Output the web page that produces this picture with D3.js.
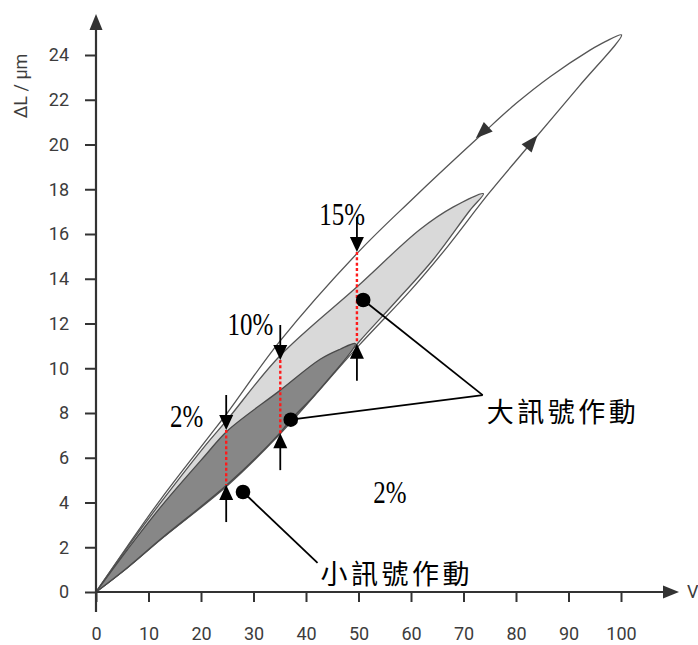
<!DOCTYPE html>
<html>
<head>
<meta charset="utf-8">
<script src="https://cdn.jsdelivr.net/npm/d3@7"></script>
<style>
  html, body { margin: 0; padding: 0; background: #fff; }
  svg { display: block; }
</style>
</head>
<body>
<svg id="chart" width="698" height="645"></svg>
<script>
// Hysteresis loops of a piezo stack: displacement ΔL (µm) vs. drive voltage V.
// Each loop = rising branch (origin -> tip) followed by falling branch (tip -> origin).

// Full-range loop (0-100 V)
const outerRise = [[0,0],[6,1.08],[12.5,2.38],[25,4.75],[35,7.05],[50,11.0],[60,13.5],[67,15.45],[74.7,17.78],[83,20.1],[92,22.6],[100.1,24.9]];
const outerFall = [[100.1,24.9],[97,24.6],[94.1,24.22],[86.5,23.03],[80.1,21.85],[73.7,20.5],[60,17.5],[50,15.2],[35,11.2],[25,8.0],[21.7,7.0],[12.5,4.2],[6,2.05],[0,0]];

// Mid-range loop (0-74 V)
const midRise = [[0,0],[6,1.1],[12.5,2.4],[25,4.8],[35,7.1],[42,8.9],[50,11.15],[57,12.95],[64.2,14.85],[71.2,17.05],[73.8,17.8]];
const midFall = [[73.8,17.8],[68,17.2],[61.7,16.2],[50,13.7],[35,10.55],[25,7.7],[21,6.6],[12.5,4.05],[6,2.0],[0,0]];

// Small-signal loop (0-50 V)
const innerRise = [[0,0],[6,1.1],[12.5,2.4],[25,4.8],[35,7.1],[37.1,7.7],[42,8.9],[49.4,11.1]];
const innerFall = [[49.4,11.1],[46.5,10.85],[42.7,10.4],[35,9.0],[25,7.2],[20.8,6.1],[12.5,3.85],[6,1.9],[0,0]];

// Direction markers on the full-range loop: [V, ΔL]
const fallMarker = [73.6, 20.55];
const riseMarker = [83.0, 20.1];

// Hysteresis width readings: voltage, upper ΔL, lower ΔL, label
const gapV     = [24.8, 35.1, 49.7];
const gapUpper = [7.24, 10.37, 15.2];
const gapLower = [4.78, 7.1, 11.1];
const gapLabel = ["2%", "10%", "15%"];

// Callout dots [V, ΔL]
const bigDots   = [[50.9, 13.05], [37.1, 7.7]];
const smallDots = [[28.0, 4.47]];
const bigLabel   = "大訊號作動";
const smallLabel = "小訊號作動";

// Axis ticks
const xTicks = d3.range(0, 101, 10);
const yTicks = d3.range(0, 25, 2);

const svg = d3.select("#chart");
const x = d3.scaleLinear().domain([0, 100]).range([96, 621]);
const y = d3.scaleLinear().domain([0, 24]).range([592, 55]);

const axisColor = "#333";
const tickFont = "Roboto, 'DejaVu Sans', sans-serif";

// ---- loops ----
const loopLine = d3.line()
  .x(d => x(d[0])).y(d => y(d[1]))
  .curve(d3.curveCatmullRom.alpha(0.5));

function loop(rise, fall, fill, stroke) {
  const pts = rise.concat(fall.slice(1));
  svg.append("path")
    .attr("d", loopLine(pts))
    .attr("fill", fill)
    .attr("stroke", stroke)
    .attr("stroke-width", 1.3)
    .attr("stroke-linejoin", "round");
}
loop(outerRise, outerFall, "#ffffff", "#555");
loop(midRise, midFall, "#d9d9d9", "#555");
loop(innerRise, innerFall, "#878787", "#4a4a4a");

// ---- direction arrowheads on the outer loop ----
function dirAt(branch, v) {
  for (let i = 0; i < branch.length - 1; i++) {
    const a = branch[i], b = branch[i + 1];
    if ((v - a[0]) * (v - b[0]) <= 0) {
      return Math.atan2(y(b[1]) - y(a[1]), x(b[0]) - x(a[0])) * 180 / Math.PI;
    }
  }
  return 0;
}
function flowHead(p, branch) {
  svg.append("path")
    .attr("d", "M9,0 L-8,-6.5 L-8,6.5 Z")
    .attr("fill", "#333")
    .attr("transform", `translate(${x(p[0])},${y(p[1])}) rotate(${dirAt(branch, p[0])})`);
}
flowHead(fallMarker, outerFall);
flowHead(riseMarker, outerRise);

// ---- axes ----
const xAxis = d3.axisBottom(x).tickValues(xTicks).tickSize(10).tickPadding(25);
const yAxis = d3.axisLeft(y).tickValues(yTicks).tickSize(11).tickPadding(16);

const gx = svg.append("g").attr("transform", `translate(0,${y(0)})`).call(xAxis);
const gy = svg.append("g").attr("transform", `translate(${x(0)},0)`).call(yAxis);
[gx, gy].forEach(g => {
  g.select(".domain").remove();
  g.selectAll(".tick line").attr("stroke", axisColor).attr("stroke-width", 2);
  g.selectAll(".tick text")
    .attr("fill", "#3c3c3c")
    .style("font-family", tickFont)
    .style("font-size", "18px");
});

// axis lines with arrowheads
svg.append("line").attr("x1", x(0)).attr("x2", 666).attr("y1", y(0)).attr("y2", y(0))
  .attr("stroke", axisColor).attr("stroke-width", 2.2);
svg.append("path").attr("d", `M679,${y(0)} L663,${y(0) - 6.5} L663,${y(0) + 6.5} Z`).attr("fill", axisColor);
svg.append("line").attr("x1", x(0)).attr("x2", x(0)).attr("y1", 612).attr("y2", 28)
  .attr("stroke", axisColor).attr("stroke-width", 2.2);
svg.append("path").attr("d", `M${x(0)},14 L${x(0) - 6.5},30 L${x(0) + 6.5},30 Z`).attr("fill", axisColor);

svg.append("text").attr("x", 687).attr("y", y(0)).attr("dy", "0.35em")
  .style("font-family", tickFont).style("font-size", "18px").attr("fill", "#3c3c3c").text("V");
svg.append("text")
  .attr("transform", "translate(27,86) rotate(-90)")
  .attr("text-anchor", "middle")
  .style("font-family", tickFont).style("font-size", "18px").attr("fill", "#3c3c3c")
  .text("ΔL / μm");

// ---- hysteresis width readings ----
const pctFont = "'Liberation Serif', 'DejaVu Serif', serif";
gapV.forEach((v, i) => {
  const px = x(v), yt = y(gapUpper[i]), yb = y(gapLower[i]);
  svg.append("line").attr("x1", px).attr("x2", px).attr("y1", yt).attr("y2", yb)
    .attr("stroke", "#ff1a1a").attr("stroke-width", 2.4).attr("stroke-dasharray", "3,2.4");
  // down arrow onto the upper branch
  svg.append("line").attr("x1", px).attr("x2", px).attr("y1", yt - 35).attr("y2", yt - 12)
    .attr("stroke", "#000").attr("stroke-width", 1.8);
  svg.append("path").attr("d", `M${px},${yt} L${px - 7},${yt - 15} L${px + 7},${yt - 15} Z`).attr("fill", "#000");
  // up arrow onto the lower branch
  svg.append("line").attr("x1", px).attr("x2", px).attr("y1", yb + 12).attr("y2", yb + 37)
    .attr("stroke", "#000").attr("stroke-width", 1.8);
  svg.append("path").attr("d", `M${px},${yb} L${px - 7},${yb + 15} L${px + 7},${yb + 15} Z`).attr("fill", "#000");
});

function pctText(label, px, py, anchor) {
  svg.append("text")
    .attr("transform", `translate(${px},${py}) scale(0.78,1)`)
    .attr("text-anchor", anchor)
    .style("font-family", pctFont).style("font-size", "32px").attr("fill", "#000")
    .text(label);
}
pctText(gapLabel[0], x(gapV[0]) - 23, y(gapUpper[0]) - 3, "end");
pctText(gapLabel[1], x(gapV[1]) - 7, y(gapUpper[1]) - 25, "end");
pctText(gapLabel[2], x(gapV[2]) + 8, y(gapUpper[2]) - 27, "end");
pctText(gapLabel[0], x(52.8), y(4.0), "start");

// ---- callouts ----
const bigJoin = [73.66, 8.8];
const smallJoin = [42.2, 1.3];
bigDots.forEach(d => {
  svg.append("line").attr("x1", x(d[0])).attr("y1", y(d[1])).attr("x2", x(bigJoin[0])).attr("y2", y(bigJoin[1]))
    .attr("stroke", "#000").attr("stroke-width", 1.8);
});
smallDots.forEach(d => {
  svg.append("line").attr("x1", x(d[0])).attr("y1", y(d[1])).attr("x2", x(smallJoin[0])).attr("y2", y(smallJoin[1]))
    .attr("stroke", "#000").attr("stroke-width", 1.8);
});
bigDots.concat(smallDots).forEach(d => {
  svg.append("circle").attr("cx", x(d[0])).attr("cy", y(d[1])).attr("r", 7.3).attr("fill", "#000");
});

const cjkFont = "'Noto Sans CJK TC', 'Noto Sans CJK SC', sans-serif";
svg.append("text").attr("x", x(bigJoin[0]) + 4).attr("y", y(bigJoin[1]) + 15)
  .attr("dominant-baseline", "central")
  .style("font-family", cjkFont).style("font-size", "27px").style("letter-spacing", "3.5px")
  .attr("fill", "#000").text(bigLabel);
svg.append("text").attr("x", x(smallJoin[0]) + 3).attr("y", y(smallJoin[1]) + 10)
  .attr("dominant-baseline", "central")
  .style("font-family", cjkFont).style("font-size", "27px").style("letter-spacing", "3.5px")
  .attr("fill", "#000").text(smallLabel);
</script>
</body>
</html>
